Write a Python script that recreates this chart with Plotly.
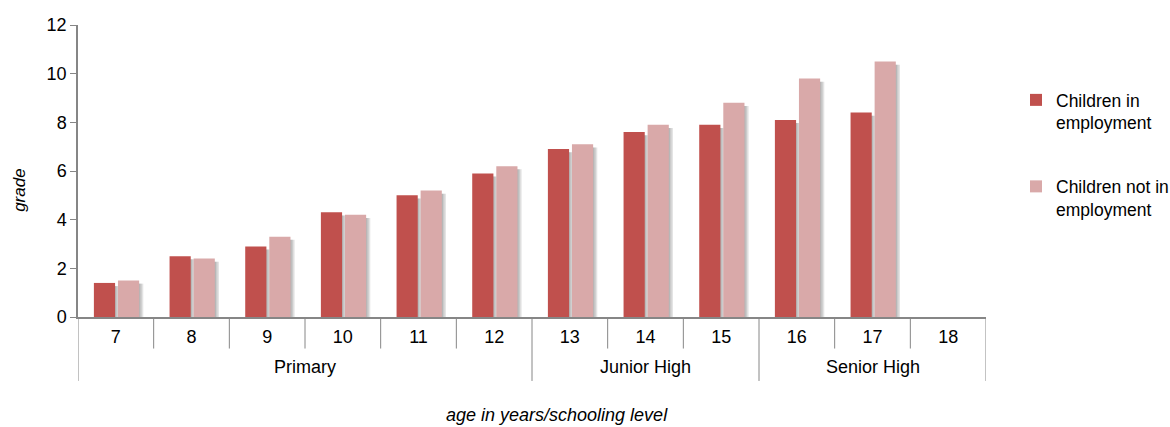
import plotly.graph_objects as go

# Ages and the schooling level each age belongs to
ages = ["7", "8", "9", "10", "11", "12", "13", "14", "15", "16", "17", "18"]
levels = ["Primary"] * 6 + ["Junior High"] * 3 + ["Senior High"] * 3

# Mean grade attained
in_employment = [1.4, 2.5, 2.9, 4.3, 5.0, 5.9, 6.9, 7.6, 7.9, 8.1, 8.4, None]
not_in_employment = [1.5, 2.4, 3.3, 4.2, 5.2, 6.2, 7.1, 7.9, 8.8, 9.8, 10.5, None]

series_names = ["Children in<br>employment", "Children not in<br>employment"]
series_colors = ["#C0504D", "#D9A9A9"]
series_offsets = [-0.29, 0.028]
BAR_WIDTH = 0.28

FONT = "Liberation Sans, Arial, sans-serif"
AXIS_GREY = "#868686"

fig = go.Figure()

# Soft drop shadows: a few translucent layers on a hidden axis shifted slightly down
for vals, off in zip([in_employment, not_in_employment], series_offsets):
    for k, shift in enumerate([0.015, 0.035, 0.055]):
        fig.add_trace(go.Bar(
            x=ages, y=vals, yaxis="y",
            offset=off + shift, width=BAR_WIDTH,
            marker=dict(color="rgba(60,60,60,0.14)", line=dict(width=0)),
            showlegend=False, hoverinfo="skip",
        ))

# The bars themselves, on the visible value axis
for i, (name, vals, color, off) in enumerate(zip(series_names, [in_employment, not_in_employment],
                                                   series_colors, series_offsets)):
    fig.add_trace(go.Bar(
        x=ages, y=vals, yaxis="y2",
        offset=off, width=BAR_WIDTH,
        name=name, legendgroup=f"g{i}",
        marker=dict(color=color, line=dict(width=0)),
    ))

# Category boundaries: short lines between ages, long lines between schooling levels
n = len(ages)
level_edges = [0] + [i for i in range(1, n) if levels[i] != levels[i - 1]] + [n]
shapes = []
for b in range(n + 1):
    long_line = b in level_edges
    shapes.append(dict(
        type="line", xref="x", yref="paper",
        x0=b - 0.5, x1=b - 0.5, y0=0, y1=-0.219 if long_line else -0.108,
        line=dict(color=AXIS_GREY, width=1),
    ))

# Schooling level labels centred under their ages
annotations = []
for a, b in zip(level_edges[:-1], level_edges[1:]):
    annotations.append(dict(
        x=(a + b - 1) / 2, xref="x", y=-0.171, yref="paper",
        text=levels[a], showarrow=False, xanchor="center", yanchor="middle",
        font=dict(size=18, family=FONT),
    ))

annotations.append(dict(
    x=0.5275, xref="paper", y=-0.336, yref="paper",
    text="<i>age in years/schooling level</i>", showarrow=False,
    xanchor="center", yanchor="middle", font=dict(size=18, family=FONT),
))
annotations.append(dict(
    x=-0.064, xref="paper", y=0.435, yref="paper",
    text="<i>grade</i>", showarrow=False, textangle=-90,
    xanchor="center", yanchor="middle", font=dict(size=17, family=FONT),
))

fig.update_layout(
    width=1170,
    height=427,
    margin=dict(l=78, r=184, t=25, b=110),
    paper_bgcolor="white",
    plot_bgcolor="white",
    barmode="overlay",
    font=dict(family=FONT, size=18, color="#000000"),
    showlegend=True,
    legend=dict(
        xref="container", yref="container",
        x=1016 / 1170, y=1 - 82 / 427, xanchor="left", yanchor="top",
        font=dict(size=17.5),
        tracegroupgap=38,
        itemwidth=30,
        valign="top",
        bgcolor="rgba(0,0,0,0)",
    ),
    shapes=shapes,
    annotations=annotations,
    xaxis=dict(
        type="category",
        range=[-0.5, n - 0.5],
        showline=True,
        linecolor=AXIS_GREY,
        linewidth=1.5,
        ticks="outside",
        ticklen=3,
        tickcolor="rgba(0,0,0,0)",
        tickfont=dict(size=18),
        showgrid=False,
        automargin=False,
    ),
    # hidden axis carrying the shadows, shifted a few pixels down
    yaxis=dict(
        range=[0.13, 12.13],
        visible=False,
        showgrid=False,
        zeroline=False,
        fixedrange=True,
    ),
    yaxis2=dict(
        overlaying="y",
        anchor="x",
        side="left",
        range=[0, 12],
        dtick=2,
        showline=True,
        linecolor=AXIS_GREY,
        linewidth=1.5,
        ticks="outside",
        ticklen=6,
        tickcolor=AXIS_GREY,
        showgrid=False,
        zeroline=False,
        tickfont=dict(size=18),
        automargin=False,
    ),
)

fig.write_html("out.html")
